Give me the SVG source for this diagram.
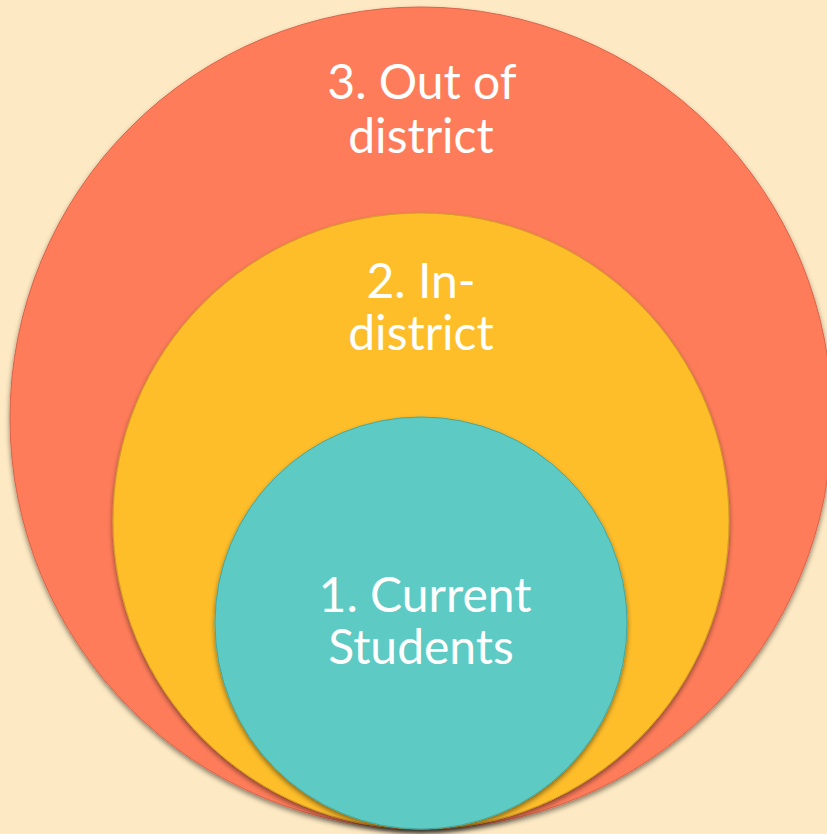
<svg xmlns="http://www.w3.org/2000/svg" width="827" height="834" viewBox="0 0 827 834">
<style>
.lbl{font-family:Lato,"Open Sans","Liberation Sans",sans-serif;font-size:48px;fill:#ffffff;text-anchor:middle}
.ring{filter:url(#sh)}
</style>
<defs>
<filter id="sh" x="-10%" y="-10%" width="120%" height="125%">
<feDropShadow dx="0" dy="3" stdDeviation="2.5" flood-color="#000" flood-opacity="0.45"/>
</filter>
</defs>
<rect width="827" height="834" fill="#FDE9C3"/>
<g id="outer">
<circle class="ring" cx="421" cy="418" r="411" fill="#FE7C5A" stroke="#D9634A" stroke-width="1"/>
<text class="lbl" x="422" y="99">3. Out of</text>
<text class="lbl" x="421" y="153">district</text>
</g>
<g id="middle">
<circle class="ring" cx="421" cy="521" r="308" fill="#FEBE2A" stroke="#D19E22" stroke-width="1"/>
<text class="lbl" x="421" y="298">2. In-</text>
<text class="lbl" x="421" y="350">district</text>
</g>
<g id="inner">
<circle class="ring" cx="421" cy="623" r="206" fill="#5DCAC4" stroke="#45A8A2" stroke-width="1"/>
<text class="lbl" x="425" y="612">1. Current</text>
<text class="lbl" x="421" y="664">Students</text>
</g>
<g id="connectors"/>
</svg>
